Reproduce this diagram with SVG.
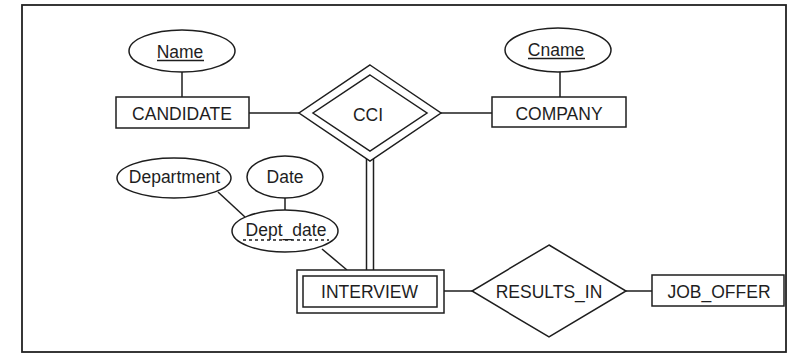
<svg xmlns="http://www.w3.org/2000/svg" width="788" height="354" viewBox="0 0 788 354">
<style>
.s{fill:none;stroke:#1e1e1e;stroke-width:1.5}
.n{fill:#fff;stroke:#1e1e1e;stroke-width:1.5}
text{font-family:"Liberation Sans",Arial,sans-serif;font-size:17.5px;fill:#1e1e1e;text-anchor:middle}
</style>
<rect x="0" y="0" width="788" height="354" fill="#fff"/>
<rect x="22" y="5" width="764" height="347" fill="none" stroke="#222" stroke-width="1.8"/>
<g id="connectors">
<line class="s" x1="182" y1="72" x2="182" y2="97"/>
<line class="s" x1="560" y1="72" x2="560" y2="97"/>
<line class="s" x1="249" y1="113" x2="300" y2="113"/>
<line class="s" x1="441" y1="113" x2="492" y2="113"/>
<line class="s" x1="366.5" y1="157" x2="366.5" y2="270"/>
<line class="s" x1="373.5" y1="157" x2="373.5" y2="270"/>
<line class="s" x1="218" y1="192" x2="245" y2="217"/>
<line class="s" x1="285" y1="197" x2="285" y2="210"/>
<line class="s" x1="322" y1="249" x2="347" y2="270"/>
<line class="s" x1="444" y1="291" x2="472" y2="291"/>
<line class="s" x1="626" y1="291" x2="652" y2="291"/>
</g>
<g id="name">
<ellipse class="n" cx="182" cy="51" rx="53" ry="21"/>
<text x="180" y="58">Name</text>
<line class="s" x1="157" y1="60.5" x2="204" y2="60.5" stroke-width="1.2"/>
</g>
<g id="cname">
<ellipse class="n" cx="558" cy="50" rx="53" ry="22"/>
<text x="556" y="56">Cname</text>
<line class="s" x1="528" y1="58.5" x2="585" y2="58.5" stroke-width="1.2"/>
</g>
<g id="candidate">
<rect class="n" x="116" y="97" width="133" height="31"/>
<text x="182" y="120">CANDIDATE</text>
</g>
<g id="company">
<rect class="n" x="492" y="97" width="134" height="30"/>
<text x="559" y="120">COMPANY</text>
</g>
<g id="cci">
<polygon class="n" points="370,65 441,113 370,161 299,113"/>
<polygon class="s" points="370,75 427,113 370,151 313,113"/>
<text x="368" y="121">CCI</text>
</g>
<g id="department">
<ellipse class="n" cx="174" cy="178" rx="57" ry="20"/>
<text x="174.5" y="183">Department</text>
</g>
<g id="date">
<ellipse class="n" cx="285" cy="177" rx="38" ry="21"/>
<text x="285" y="183">Date</text>
</g>
<g id="dept_date">
<ellipse class="n" cx="285" cy="231" rx="53" ry="21"/>
<text x="286" y="236">Dept_date</text>
<line class="s" x1="243" y1="240" x2="329" y2="240" stroke-width="1.3" stroke-dasharray="3,3"/>
</g>
<g id="interview">
<rect class="n" x="297" y="270" width="147" height="43"/>
<rect class="s" x="303" y="276" width="134" height="31"/>
<text x="369.5" y="298">INTERVIEW</text>
</g>
<g id="results_in">
<polygon class="n" points="549,245 626,291 549,337 472,291"/>
<text x="549" y="298">RESULTS_IN</text>
</g>
<g id="job_offer">
<rect class="n" x="652" y="275" width="132" height="31"/>
<text x="719" y="298">JOB_OFFER</text>
</g>
</svg>
